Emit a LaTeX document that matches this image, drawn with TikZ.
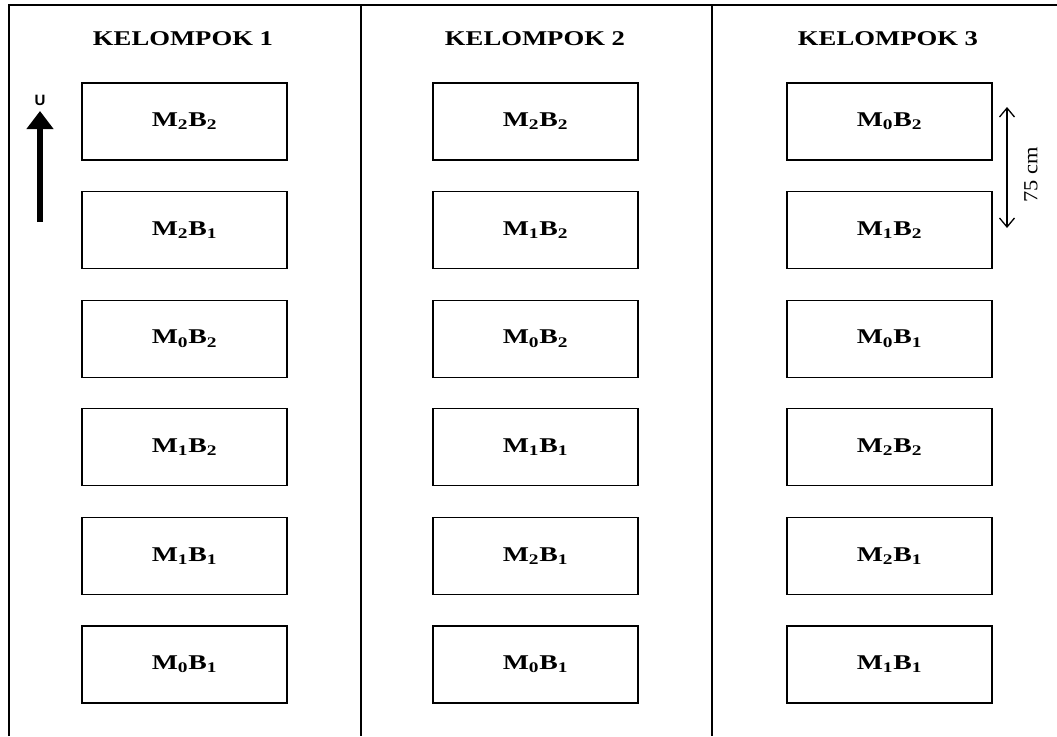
\documentclass[tikz,border=0pt]{standalone}
\usepackage{fontspec}
\setmainfont{Liberation Serif}
\usetikzlibrary{arrows.meta}
\newcommand{\lbl}[2]{\scalebox{1.32}[1]{\fontsize{21}{21}\selectfont\bfseries M\textsubscript{#1}B\textsubscript{#2}}}
\newcommand{\hdr}[1]{\scalebox{1.27}[1]{\fontsize{21}{21}\selectfont\bfseries KELOMPOK #1}}
\tikzset{
  plot/.style={draw, line width=1.3pt, minimum width=205pt, minimum height=77pt, inner sep=0pt},
  frame/.style={line width=2pt},
  hdrnode/.style={inner sep=0pt},
}
\begin{document}
\begin{tikzpicture}[x=1pt,y=-1pt]
\useasboundingbox (0,0) rectangle (1057,736);
% frame
\draw[frame] (9,736) -- (9,5) -- (1057,5);
\draw[frame] (361,5) -- (361,736);
\draw[frame] (712,5) -- (712,736);
% headings
\node[hdrnode] (h1) at (183,39) {\hdr{1}};
\node[hdrnode] (h2) at (535,39) {\hdr{2}};
\node[hdrnode] (h3) at (888,39) {\hdr{3}};
% plots
\foreach \c/\x/\labs in {1/184.5/{2/2,2/1,0/2,1/2,1/1,0/1},
                        2/535.5/{2/2,1/2,0/2,1/1,2/1,0/1},
                        3/889.5/{0/2,1/2,0/1,2/2,2/1,1/1}} {
  \foreach \m/\b [count=\r] in \labs {
    \node[plot] (p\c\r) at (\x,{121.5+(\r-1)*108.6}) {\lbl{\m}{\b}};
  }
}
% north arrow
\coordinate (ns) at (40,222);
\coordinate (nt) at (40,111);
\draw[line width=5.5pt, -{Triangle[width=26pt,length=18pt]}] (ns) -- (nt);
\node[font=\fontspec{Liberation Sans}\bfseries\fontsize{15}{15}\selectfont, inner sep=0pt] (u) at (40,100) {U};
% dimension
\coordinate (d1) at (1007,107);
\coordinate (d2) at (1007,228);
\draw[line width=1.3pt, {Straight Barb[length=9pt,width=15pt]}-{Straight Barb[length=9pt,width=15pt]}] (d1) -- (d2);
\node[rotate=90, inner sep=0pt, font=\fontsize{20}{20}\selectfont] (dim) at (1031,175) {\scalebox{1.12}[1]{75 cm}};
\end{tikzpicture}
\end{document}
